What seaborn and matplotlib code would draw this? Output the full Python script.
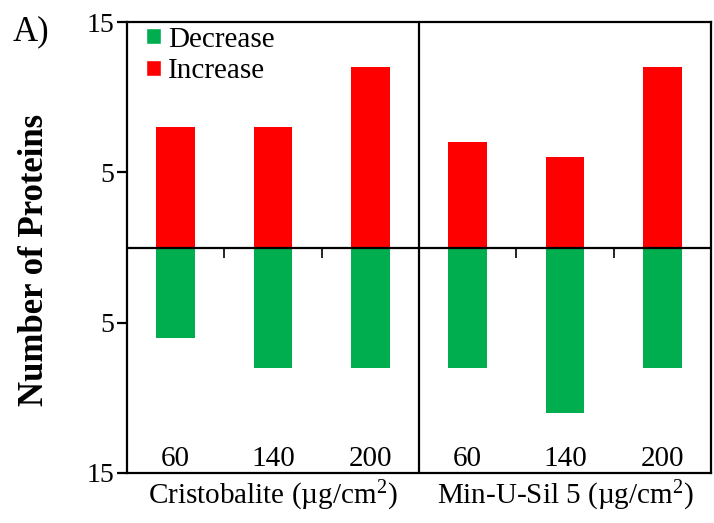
import matplotlib
matplotlib.use("Agg")
import matplotlib.pyplot as plt
import matplotlib.markers as mmarkers
from matplotlib.patches import Patch
import seaborn as sns
import pandas as pd

# Protein counts per dose: increased and decreased abundance
groups = ["Cristobalite", "Cristobalite", "Cristobalite",
          "Min-U-Sil 5", "Min-U-Sil 5", "Min-U-Sil 5"]
doses = ["60", "140", "200", "60", "140", "200"]
increase = [8, 8, 12, 7, 6, 12]
decrease = [6, 8, 8, 8, 11, 8]
group_labels = ["Cristobalite (\u00b5g/cm$^2$)", "Min-U-Sil 5 (\u00b5g/cm$^2$)"]
ytick_values = [15, 5, -5, -15]
ytick_labels = ["15", "5", "5", "15"]

sns.set_theme(style="ticks")
plt.rcParams["font.family"] = ["Liberation Serif", "DejaVu Serif"]
plt.rcParams["mathtext.fontset"] = "custom"
plt.rcParams["mathtext.rm"] = "Liberation Serif"
plt.rcParams["mathtext.it"] = "Liberation Serif:italic"
plt.rcParams["mathtext.bf"] = "Liberation Serif:bold"
for key in ["text.color", "axes.labelcolor", "xtick.color", "ytick.color", "axes.edgecolor"]:
    plt.rcParams[key] = "black"

keys = [f"{g} {d}" for g, d in zip(groups, doses)]
df = pd.DataFrame({
    "key": keys * 2,
    "value": increase + [-v for v in decrease],
    "direction": ["Increase"] * 6 + ["Decrease"] * 6,
})

colors = {"Increase": "#FF0000", "Decrease": "#00AE50"}

fig = plt.figure(figsize=(7.14, 5.23), dpi=100)
ax = fig.add_axes([127 / 714, 50 / 523, 584 / 714, 451 / 523])

sns.barplot(data=df, x="key", y="value", hue="direction", order=keys,
            hue_order=["Decrease", "Increase"], palette=colors, dodge=False,
            saturation=1, width=0.4, linewidth=0, legend=False, ax=ax)

ax.set_xlim(-0.5, 5.5)
ax.set_ylim(-15, 15)

# Frame, zero line and panel divider
for side in ["left", "right", "top", "bottom"]:
    ax.spines[side].set_visible(True)
    ax.spines[side].set_linewidth(1.6)
    ax.spines[side].set_color("black")
ax.axhline(0, color="black", lw=1.6, zorder=3)
ax.axvline(2.5, color="black", lw=1.6, zorder=3)

# Small separators between doses along the zero line
ax.plot([0.5, 1.5, 3.5, 4.5], [0, 0, 0, 0], ls="none", color="black",
        marker=mmarkers.TICKDOWN, ms=7, mew=1.2, zorder=3)

# Y axis: magnitudes both ways from zero
ax.set_yticks(ytick_values)
ax.set_yticklabels(ytick_labels, fontsize=20)
ax.tick_params(axis="y", direction="out", length=7, width=1.6, pad=2, color="black")
ax.set_ylabel("Number of Proteins", fontsize=25, fontweight="bold")
ax.yaxis.label.set_verticalalignment("center")
ax.yaxis.set_label_coords(-0.159, 0.472)

# X axis: group names under each panel, doses inside the plot
ax.set_xticks([1, 4])
ax.set_xticklabels(group_labels, fontsize=21)
ax.tick_params(axis="x", length=0, pad=4)
ax.set_xlabel("")
trans = ax.get_xaxis_transform()
for i, d in enumerate(doses):
    ax.text(i, 0.03, d, transform=trans, ha="center", va="center", fontsize=21)

handles = [Patch(facecolor=colors["Decrease"], label="Decrease"),
           Patch(facecolor=colors["Increase"], label="Increase")]
ax.legend(handles=handles, loc="upper left", bbox_to_anchor=(0.033, 0.99),
          frameon=False, fontsize=21, handlelength=0.5, handleheight=0.5,
          handletextpad=0.25, labelspacing=0.2, borderpad=0, borderaxespad=0)

fig.text(13 / 714, 1 - 32 / 523, "A)", fontsize=25, ha="left", va="center")

fig.savefig("out.png", dpi=100)
